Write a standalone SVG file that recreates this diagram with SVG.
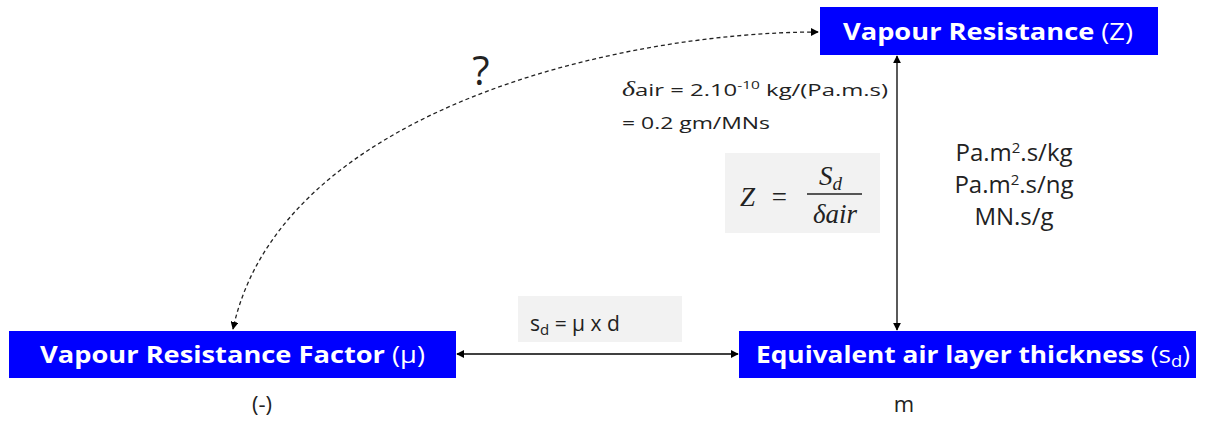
<svg xmlns="http://www.w3.org/2000/svg" width="1208" height="422" viewBox="0 0 1208 422">
<style>
.box{fill:#0000ff;}
.bt{font-family:"Open Sans","Noto Sans",sans-serif;font-size:23px;fill:#fff;font-weight:700;}
.bt .r{font-weight:400;}
.t{font-family:"Open Sans","Noto Sans",sans-serif;fill:#222;}
.math{font-family:"Liberation Serif",serif;font-style:italic;fill:#222;}
.ln{stroke:#000;stroke-width:1.3;fill:none;}
.dash{stroke:#222;stroke-width:1.3;fill:none;stroke-dasharray:4 3;}
.gray{fill:#f2f2f2;}
</style>
<defs>
<marker id="ah" viewBox="0 0 10 10" refX="9" refY="5" markerWidth="8" markerHeight="8" orient="auto-start-reverse" markerUnits="userSpaceOnUse">
<path d="M0,0 L10,5 L0,10 z" fill="#000"/>
</marker>
</defs>
<g id="connectors">
<line class="ln" x1="897" y1="56" x2="897" y2="330" marker-start="url(#ah)" marker-end="url(#ah)"/>
<line class="ln" x1="457" y1="354" x2="738" y2="354" marker-start="url(#ah)" marker-end="url(#ah)"/>
<path class="dash" d="M818,32 C620,32 280,110 233,329" marker-start="url(#ah)" marker-end="url(#ah)"/>
</g>
<g id="node-z">
<rect class="box" x="820" y="7" width="338" height="48"/>
<text class="bt" x="843" y="40" textLength="290" lengthAdjust="spacingAndGlyphs">Vapour Resistance <tspan class="r">(Z)</tspan></text>
</g>
<g id="node-mu">
<rect class="box" x="9" y="331" width="447" height="47"/>
<text class="bt" x="40" y="363" textLength="385" lengthAdjust="spacingAndGlyphs">Vapour Resistance Factor <tspan class="r">(μ)</tspan></text>
<text class="t" x="262" y="412" font-size="22" text-anchor="middle">(-)</text>
</g>
<g id="node-sd">
<rect class="box" x="739" y="331" width="457" height="47"/>
<text class="bt" x="756" y="363" textLength="434" lengthAdjust="spacingAndGlyphs">Equivalent air layer thickness <tspan class="r">(s<tspan font-size="16" dy="4">d</tspan><tspan dy="-4">)</tspan></tspan></text>
<text class="t" x="904" y="412" font-size="22" text-anchor="middle">m</text>
</g>
<g id="labels">
<text class="t" x="481" y="85" font-size="40" text-anchor="middle">?</text>
<text class="t" x="622" y="96" font-size="17" textLength="266" lengthAdjust="spacingAndGlyphs"><tspan class="math" font-size="20">δ</tspan>air = 2.10<tspan font-size="11" dy="-7">-10</tspan><tspan dy="7"> kg/(Pa.m.s)</tspan></text>
<text class="t" x="622" y="129" font-size="17" textLength="148" lengthAdjust="spacingAndGlyphs">= 0.2 gm/MNs</text>
<rect class="gray" x="725" y="153" width="155" height="80"/>
<text class="math" x="740" y="206" font-size="27">Z</text>
<text class="math" x="770" y="206" font-size="27" font-style="normal">=</text>
<text class="math" x="819" y="185" font-size="27">S<tspan font-size="19" dy="5">d</tspan></text>
<line x1="807" y1="194" x2="862" y2="194" stroke="#222" stroke-width="1.6"/>
<text class="math" x="835" y="223" font-size="27" text-anchor="middle">δair</text>
<text class="t" x="1014" y="161" font-size="24" text-anchor="middle">Pa.m<tspan font-size="15" dy="-8">2</tspan><tspan dy="8">.s/kg</tspan></text>
<text class="t" x="1014" y="193" font-size="24" text-anchor="middle">Pa.m<tspan font-size="15" dy="-8">2</tspan><tspan dy="8">.s/ng</tspan></text>
<text class="t" x="1014" y="225" font-size="24" text-anchor="middle">MN.s/g</text>
<rect class="gray" x="518" y="296" width="164" height="46"/>
<text class="t" x="530" y="331" font-size="21">s<tspan font-size="15" dy="4">d</tspan><tspan dy="-4"> = μ x d</tspan></text>
</g>
</svg>
